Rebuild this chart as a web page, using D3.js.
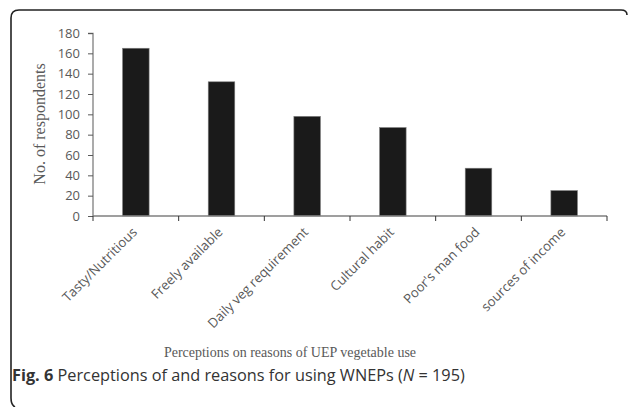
<!DOCTYPE html>
<html><head><meta charset="utf-8">
<script src="https://cdn.jsdelivr.net/npm/d3@7"></script>
<style>body{margin:0;background:#fff}svg{display:block}</style>
</head><body>
<svg id="c" width="629" height="407"></svg>
<script>
const categories = ["Tasty/Nutritious","Freely available","Daily veg requirement","Cultural habit","Poor's man food","sources of income"];
const values = [165,132,98,87,47,25];
const yTicks = [0,20,40,60,80,100,120,140,160,180];
const yTitle = "No. of respondents";
const xTitle = "Perceptions on reasons of UEP vegetable use";

const svg = d3.select("#c");
// frame
svg.append("path")
  .attr("d","M627,15 Q627,10 621,10 L19,10 Q11,10 11,18 L11,398 Q11,405 15,407")
  .attr("fill","none").attr("stroke","#222").attr("stroke-width",1.6);

const x = d3.scaleBand().domain(categories).range([93,607]).paddingInner(0.69).paddingOuter(0.345);
const y = d3.scaleLinear().domain([0,180]).range([216,33]);

const gy = svg.append("g").attr("transform","translate(93,0)")
  .call(d3.axisLeft(y).tickValues(yTicks).tickSize(5).tickPadding(8));
gy.select(".domain").attr("stroke","#7f7f7f").attr("stroke-width",1.3).attr("d","M-5,33.5H0V216");
gy.selectAll(".tick line").attr("stroke","#595959");
gy.selectAll(".tick text").attr("fill","#595959").style("font-family","Open Sans").style("font-size","13px");

svg.append("g").selectAll("rect").data(values).join("rect")
  .attr("x",(d,i)=>x(categories[i])).attr("width",x.bandwidth())
  .attr("y",d=>y(d)).attr("height",d=>y(0)-y(d))
  .attr("fill","#1a1a1a").attr("stroke","#7f7f7f").attr("stroke-width",0.6);

const bounds = d3.scaleBand().domain(categories).range([93,607]);
const gx = svg.append("g").attr("transform","translate(0,216)");
gx.append("line").attr("x1",93).attr("x2",607).attr("y1",0).attr("y2",0).attr("stroke","#7f7f7f").attr("stroke-width",1.3);
const bpos = categories.map(c=>bounds(c)).concat([607]);
gx.selectAll("line.t").data(bpos).join("line").attr("class","t")
  .attr("x1",d=>d).attr("x2",d=>d).attr("y1",0).attr("y2",5).attr("stroke","#333");
gx.selectAll("text").data(categories).join("text")
  .attr("transform",d=>`translate(${x(d)+x.bandwidth()/2+2},${17}) rotate(-45)`)
  .attr("text-anchor","end")
  .attr("fill","#595959").style("font-family","Open Sans").style("font-size","13.2px")
  .text(d=>d);

svg.append("text").attr("transform","translate(45,124) rotate(-90)")
  .attr("text-anchor","middle").attr("fill","#595959")
  .style("font-family","Liberation Serif").style("font-size","16px").text(yTitle);
svg.append("text").attr("x",290).attr("y",357).attr("text-anchor","middle").attr("fill","#595959")
  .style("font-family","Liberation Serif").style("font-size","14px").text(xTitle);

const cap = svg.append("text").attr("x",12).attr("y",381).attr("fill","#333")
  .style("font-family","Open Sans").style("font-size","16.3px");
cap.append("tspan").attr("font-weight","bold").text("Fig. 6");
cap.append("tspan").text(" Perceptions of and reasons for using WNEPs (");
cap.append("tspan").attr("font-style","italic").text("N");
cap.append("tspan").text(" = 195)");
</script>
</body></html>
